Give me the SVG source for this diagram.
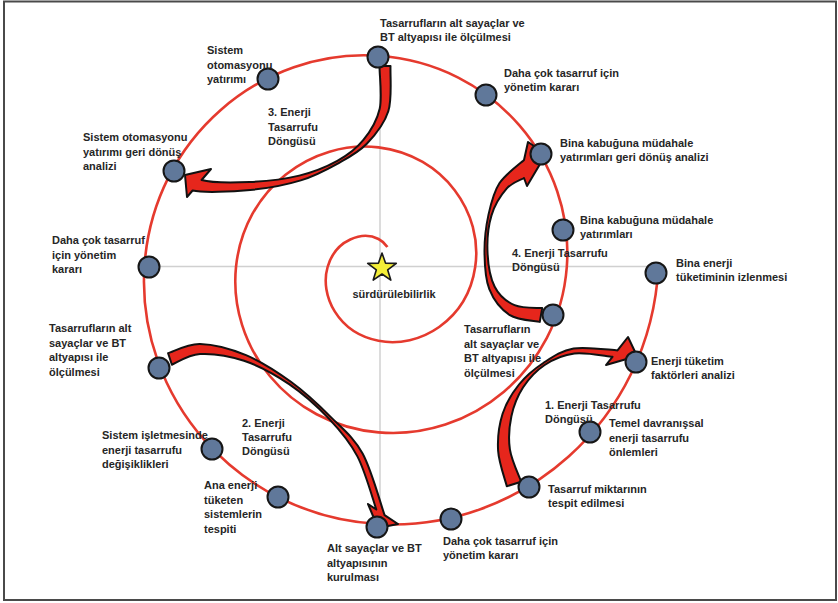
<svg xmlns="http://www.w3.org/2000/svg" width="838" height="603" viewBox="0 0 838 603">
<style>
.lbl{font-family:"Liberation Sans",Arial,sans-serif;font-weight:bold;font-size:11px;fill:#262626}
.node{fill:#60789a;stroke:#161616;stroke-width:2}
.arrow{fill:#e6261c;stroke:#111;stroke-width:2;stroke-linejoin:round}
.axis{stroke:#d0d0d0;stroke-width:1.5;fill:none}
.spiral{fill:none;stroke:#e53a2e;stroke-width:2.6}
</style>
<rect x="0" y="0" width="838" height="603" fill="#fff"/>
<rect x="4" y="1.5" width="832" height="598.5" fill="none" stroke="#4a4a4a" stroke-width="2"/>
<g id="axes">
<line class="axis" x1="150" y1="266.5" x2="656" y2="266.5"/>
<line class="axis" x1="380" y1="57" x2="380" y2="527"/>
</g>
<g id="connectors">
<path id="spiral" class="spiral" d="M387.4,247 C385.4,243.9 382.4,241 378.5,239 C363,231 335.7,238.9 327.6,267 C319.5,295.1 337.7,332.8 378.5,340.8 C419.3,348.9 467.2,320.4 475.2,267 C483.3,213.6 444.6,155.5 378.5,147.4 C312.5,139.4 244.1,188.3 236,267 C228,345.7 287.2,424.4 378.5,432.4 C469.9,440.5 558.8,371 566.8,267 C574.9,163 495.1,63.9 378.5,55.8 C261.9,47.8 152.5,137.7 144.4,267 C136.4,396.3 236.6,516 378.5,524 C520.4,532.1 650.4,421.6 658.4,267"/>
<path id="arrow1" class="arrow" d="M506.8,486.2 C505.4,480.3 498.8,462.7 498.1,450.6 C497.4,438.5 499.1,424.8 502.6,413.8 C506.1,402.8 512.2,393 519,384.5 C525.8,376 534.2,369 543.3,363 C552.4,357 561.2,350.6 573.6,348.5 C586,346.4 610.2,350.1 617.5,350.4 L628,337 L637,356 L606,365 L612.5,356.8 C606.2,356.3 585.7,352.1 574.4,353.5 C563.1,354.9 553.3,359.3 544.7,365 C536.1,370.7 528.6,379 523,387.5 C517.5,396 513.6,405.9 511.4,416.2 C509.2,426.5 508.3,438.5 509.9,449.4 C511.5,460.3 519.3,476.4 521.2,481.8 Z"/>
<path id="arrow2" class="arrow" d="M168.1,353.3 C173.4,351.8 187,343.7 200,344 C213,344.3 230.9,348.9 246,355.2 C261.2,361.5 276.7,371.5 290.9,381.8 C305.1,392.1 318.9,405.1 330.9,417.1 C342.9,429.1 353.7,437.3 362.6,453.6 C371.5,469.9 380.9,504.9 384.6,515.1 L398,524 L378,528 L368,504 L376.3,509.5 C373.2,500.7 365.3,471.5 357.4,456.4 C349.5,441.3 340.5,430.9 329.1,418.9 C317.7,406.9 303.3,393.9 289.1,384.2 C274.9,374.5 258.9,365.8 244,360.8 C229.2,355.8 212,353.4 200,354 C188,354.7 176.6,362.9 171.9,364.7 Z"/>
<path id="arrow3" class="arrow" d="M390.5,66 C390.1,76.9 392.3,99 388.3,111.3 C384.4,123.6 375.1,135.2 366.8,143.8 C358.5,152.4 349.7,157 338.7,163.1 C327.7,169.2 315.6,175.9 300.8,180.4 C286.1,184.9 268.2,188.3 250.2,190 C232.2,191.7 203,193 192.6,190.5 L187,197 L185,175 L211,169 L201.6,180 C212,183 233.5,182.7 249.8,182 C266.1,181.3 284.6,179.1 299.2,175.6 C313.8,172.1 326.6,166.8 337.3,160.9 C348,155 356.1,148.9 363.2,140.2 C370.3,131.5 377,120.4 379.7,108.7 C382.4,97 379.5,76.5 379.5,66 Z"/>
<path id="arrow4" class="arrow" d="M539.8,321.9 C534.7,320.7 517.8,320.3 509.4,314.8 C501,309.4 493.5,299.7 489.3,289.2 C485.2,278.7 484.6,264.4 484.5,252 C484.4,239.6 486,226.1 488.5,214.6 C491,203.2 493.5,192.4 499.4,183.3 C505.3,174.2 519.9,163.9 524,160 L528,142 L546,154 L527,186 L524,178 C521.1,179.8 512,182.5 506.6,188.7 C501.2,194.9 494.7,204.9 491.5,215.4 C488.3,225.9 487,240.1 487.5,252 C488,263.9 490.2,277.9 494.7,286.8 C499.2,295.7 506.7,301.7 514.6,305.2 C522.5,308.8 537.6,307.6 542.2,308.1 Z"/>
</g>
<g id="n1"><circle class="node" cx="378" cy="57" r="10.5"/></g>
<g id="n2"><circle class="node" cx="486" cy="95" r="10.5"/></g>
<g id="n3"><circle class="node" cx="541" cy="154" r="10.5"/></g>
<g id="n4"><circle class="node" cx="563" cy="230" r="10.5"/></g>
<g id="n5"><circle class="node" cx="656" cy="273" r="10.5"/></g>
<g id="n6"><circle class="node" cx="553" cy="315" r="10.5"/></g>
<g id="n7"><circle class="node" cx="636" cy="362" r="10.5"/></g>
<g id="n8"><circle class="node" cx="590" cy="432" r="10.5"/></g>
<g id="n9"><circle class="node" cx="529" cy="487" r="10.5"/></g>
<g id="n10"><circle class="node" cx="451" cy="519" r="10.5"/></g>
<g id="n11"><circle class="node" cx="377" cy="527" r="10.5"/></g>
<g id="n12"><circle class="node" cx="278" cy="497" r="10.5"/></g>
<g id="n13"><circle class="node" cx="212" cy="449" r="10.5"/></g>
<g id="n14"><circle class="node" cx="159" cy="368" r="10.5"/></g>
<g id="n15"><circle class="node" cx="149" cy="267" r="10.5"/></g>
<g id="n16"><circle class="node" cx="174" cy="171" r="10.5"/></g>
<g id="n17"><circle class="node" cx="268" cy="79" r="10.5"/></g>
<g id="center">
<polygon points="382,253 385.5,263.1 396.3,263.4 387.7,269.9 390.8,280.1 382,274 373.2,280.1 376.3,269.9 367.7,263.4 378.5,263.1" fill="#f4ee38" stroke="#1a1a1a" stroke-width="1.6" stroke-linejoin="round"/>
<text class="lbl" x="394" y="298" text-anchor="middle">sürdürülebilirlik</text>
</g>
<g id="labels">
<text class="lbl" x="380" y="27"><tspan x="380">Tasarrufların alt sayaçlar ve</tspan><tspan x="380" dy="14">BT altyapısı ile ölçülmesi</tspan></text>
<text class="lbl" x="504" y="77"><tspan x="504">Daha çok tasarruf için</tspan><tspan x="504" dy="14">yönetim kararı</tspan></text>
<text class="lbl" x="560" y="147"><tspan x="560">Bina kabuğuna müdahale</tspan><tspan x="560" dy="14">yatırımları geri dönüş analizi</tspan></text>
<text class="lbl" x="580" y="224"><tspan x="580">Bina kabuğuna müdahale</tspan><tspan x="580" dy="14">yatırımları</tspan></text>
<text class="lbl" x="676" y="267"><tspan x="676">Bina enerji</tspan><tspan x="676" dy="14">tüketiminin izlenmesi</tspan></text>
<text class="lbl" x="464" y="333"><tspan x="464">Tasarrufların</tspan><tspan x="464" dy="14.5">alt sayaçlar ve</tspan><tspan x="464" dy="14.5">BT altyapısı ile</tspan><tspan x="464" dy="14.5">ölçülmesi</tspan></text>
<text class="lbl" x="651" y="365"><tspan x="651">Enerji tüketim</tspan><tspan x="651" dy="14">faktörleri analizi</tspan></text>
<text class="lbl" x="609" y="427"><tspan x="609">Temel davranışsal</tspan><tspan x="609" dy="14.5">enerji tasarrufu</tspan><tspan x="609" dy="14.5">önlemleri</tspan></text>
<text class="lbl" x="548" y="493"><tspan x="548">Tasarruf miktarının</tspan><tspan x="548" dy="14">tespit edilmesi</tspan></text>
<text class="lbl" x="443" y="545"><tspan x="443">Daha çok tasarruf için</tspan><tspan x="443" dy="14">yönetim kararı</tspan></text>
<text class="lbl" x="327" y="552"><tspan x="327">Alt sayaçlar ve BT</tspan><tspan x="327" dy="14.5">altyapısının</tspan><tspan x="327" dy="14.5">kurulması</tspan></text>
<text class="lbl" x="204" y="489"><tspan x="204">Ana enerji</tspan><tspan x="204" dy="14.5">tüketen</tspan><tspan x="204" dy="14.5">sistemlerin</tspan><tspan x="204" dy="14.5">tespiti</tspan></text>
<text class="lbl" x="102" y="439"><tspan x="102">Sistem işletmesinde</tspan><tspan x="102" dy="14.5">enerji tasarrufu</tspan><tspan x="102" dy="14.5">değişiklikleri</tspan></text>
<text class="lbl" x="242" y="427"><tspan x="242">2. Enerji</tspan><tspan x="242" dy="14">Tasarrufu</tspan><tspan x="242" dy="14">Döngüsü</tspan></text>
<text class="lbl" x="49" y="332"><tspan x="49">Tasarrufların alt</tspan><tspan x="49" dy="14.5">sayaçlar ve BT</tspan><tspan x="49" dy="14.5">altyapısı ile</tspan><tspan x="49" dy="14.5">ölçülmesi</tspan></text>
<text class="lbl" x="52" y="244"><tspan x="52">Daha çok tasarruf</tspan><tspan x="52" dy="14.5">için yönetim</tspan><tspan x="52" dy="14.5">kararı</tspan></text>
<text class="lbl" x="83" y="141"><tspan x="83">Sistem otomasyonu</tspan><tspan x="83" dy="14.5">yatırımı geri dönüş</tspan><tspan x="83" dy="14.5">analizi</tspan></text>
<text class="lbl" x="207" y="54"><tspan x="207">Sistem</tspan><tspan x="207" dy="14.5">otomasyonu</tspan><tspan x="207" dy="14.5">yatırımı</tspan></text>
<text class="lbl" x="268" y="116"><tspan x="268">3. Enerji</tspan><tspan x="268" dy="14.5">Tasarrufu</tspan><tspan x="268" dy="14.5">Döngüsü</tspan></text>
<text class="lbl" x="512" y="257"><tspan x="512">4. Enerji Tasarrufu</tspan><tspan x="512" dy="14">Döngüsü</tspan></text>
<text class="lbl" x="545" y="409"><tspan x="545">1. Enerji Tasarrufu</tspan><tspan x="545" dy="14">Döngüsü</tspan></text>
</g>
</svg>
